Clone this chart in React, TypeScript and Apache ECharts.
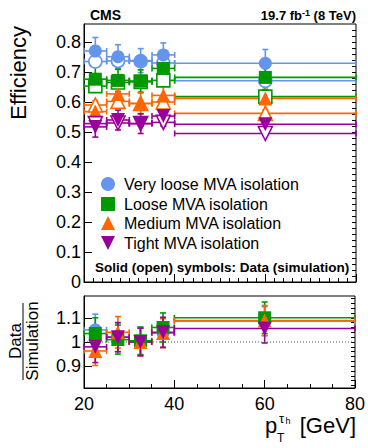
import React, { useEffect, useRef } from "react";
import * as echarts from "echarts";

const FONT = "'Liberation Sans', Arial, Helvetica, sans-serif";

// bins in pT
const binCenters = [22.5, 27.5, 32.5, 37.5, 60];
const binHalfWidths = [2.5, 2.5, 2.5, 2.5, 20];

// efficiencies (data = filled, simulation = open)
const vlooseData = [0.770, 0.751, 0.738, 0.757, 0.729];
const vlooseDataErr = [0.045, 0.040, 0.040, 0.040, 0.046];
const vlooseSim = [0.735, 0.737, 0.736, 0.730, 0.671];
const vlooseSimErr = [0.008, 0.008, 0.008, 0.008, 0.006];

const looseData = [0.676, 0.672, 0.670, 0.712, 0.682];
const looseDataErr = [0.040, 0.037, 0.037, 0.040, 0.040];
const looseSim = [0.653, 0.665, 0.667, 0.672, 0.618];
const looseSimErr = [0.008, 0.008, 0.008, 0.008, 0.006];

const mediumData = [0.568, 0.627, 0.595, 0.622, 0.612];
const mediumDataErr = [0.036, 0.035, 0.035, 0.036, 0.038];
const mediumSim = [0.590, 0.602, 0.595, 0.600, 0.562];
const mediumSimErr = [0.008, 0.008, 0.008, 0.008, 0.006];

const tightData = [0.517, 0.540, 0.528, 0.553, 0.526];
const tightDataErr = [0.034, 0.033, 0.033, 0.034, 0.036];
const tightSim = [0.528, 0.530, 0.528, 0.532, 0.495];
const tightSimErr = [0.008, 0.008, 0.008, 0.008, 0.006];

// data / simulation ratios
const vlooseRatio = [1.050, 1.020, 1.003, 1.037, 1.086];
const vlooseRatioErr = [0.065, 0.060, 0.057, 0.060, 0.060];
const looseRatio = [1.035, 1.010, 1.005, 1.060, 1.100];
const looseRatioErr = [0.065, 0.060, 0.057, 0.060, 0.065];
const mediumRatio = [0.963, 1.040, 1.000, 1.037, 1.089];
const mediumRatioErr = [0.060, 0.065, 0.057, 0.060, 0.062];
const tightRatio = [0.980, 1.020, 1.000, 1.040, 1.056];
const tightRatioErr = [0.065, 0.060, 0.057, 0.062, 0.060];

// axis ticks
const effTicks = [0, 0.1, 0.2, 0.3, 0.4, 0.5, 0.6, 0.7, 0.8];
const effMinorTicks = Array.from({ length: 43 }, (_, i) => +(i * 0.02).toFixed(2));
const ratioTicks = [0.9, 1, 1.1];
const ratioMinorTicks = Array.from({ length: 19 }, (_, i) => +(0.82 + i * 0.02).toFixed(2));

const legendNames = [
  "Very loose MVA isolation",
  "Loose MVA isolation",
  "Medium MVA isolation",
  "Tight MVA isolation",
];

const COLORS = ["#6495ed", "#009900", "#ff6600", "#990099"];

function errRender(color: string, lw: number) {
  return (params: any, api: any) => {
    const x = api.value(0);
    const y = api.value(1);
    const xe = api.value(2);
    const ye = api.value(3);
    const l = api.coord([x - xe, y]);
    const r = api.coord([x + xe, y]);
    const t = api.coord([x, y + ye]);
    const b = api.coord([x, y - ye]);
    const cap = 3;
    const style = { stroke: color, lineWidth: lw };
    const children: any[] = [
      { type: "line", shape: { x1: l[0], y1: l[1], x2: r[0], y2: r[1] }, style },
      { type: "line", shape: { x1: l[0], y1: l[1] - cap, x2: l[0], y2: l[1] + cap }, style },
      { type: "line", shape: { x1: r[0], y1: r[1] - cap, x2: r[0], y2: r[1] + cap }, style },
    ];
    if (ye > 0) {
      children.push(
        { type: "line", shape: { x1: t[0], y1: t[1], x2: b[0], y2: b[1] }, style },
        { type: "line", shape: { x1: t[0] - cap, y1: t[1], x2: t[0] + cap, y2: t[1] }, style },
        { type: "line", shape: { x1: b[0] - cap, y1: b[1], x2: b[0] + cap, y2: b[1] }, style }
      );
    }
    return { type: "group", children };
  };
}

function errSeries(vals: number[], errs: number[], color: string, gridIdx: number) {
  return {
    type: "custom",
    xAxisIndex: gridIdx === 0 ? 0 : 1,
    yAxisIndex: gridIdx === 0 ? 0 : 2,
    renderItem: errRender(color, 1.6),
    encode: { x: 0, y: 1 },
    data: binCenters.map((x, i) => [x, vals[i], binHalfWidths[i], errs[i]]),
    silent: true,
  };
}

const SYMS = [
  { symbol: "circle", size: 13, rotate: 0 },
  { symbol: "rect", size: 13, rotate: 0 },
  { symbol: "triangle", size: 14, rotate: 0 },
  { symbol: "triangle", size: 14, rotate: 180 },
];

function markerSeries(vals: number[], k: number, open: boolean, gridIdx: number) {
  return {
    type: "scatter",
    xAxisIndex: gridIdx === 0 ? 0 : 1,
    yAxisIndex: gridIdx === 0 ? 0 : 2,
    symbol: SYMS[k].symbol,
    symbolSize: SYMS[k].size,
    symbolRotate: SYMS[k].rotate,
    itemStyle: open
      ? { color: "#ffffff", borderColor: COLORS[k], borderWidth: 1.6, opacity: 1 }
      : { color: COLORS[k], opacity: 1 },
    data: binCenters.map((x, i) => [x, vals[i]]),
    silent: true,
  };
}

export default function App() {
  const ref = useRef<HTMLDivElement>(null);
  useEffect(() => {
    if (!ref.current) return;
    const chart = echarts.init(ref.current, undefined, { renderer: "svg" });

    const dataSets = [
      { d: vlooseData, de: vlooseDataErr, s: vlooseSim, se: vlooseSimErr, r: vlooseRatio, re: vlooseRatioErr },
      { d: looseData, de: looseDataErr, s: looseSim, se: looseSimErr, r: looseRatio, re: looseRatioErr },
      { d: mediumData, de: mediumDataErr, s: mediumSim, se: mediumSimErr, r: mediumRatio, re: mediumRatioErr },
      { d: tightData, de: tightDataErr, s: tightSim, se: tightSimErr, r: tightRatio, re: tightRatioErr },
    ];

    const series: any[] = [];
    // reference line in ratio panel
    series.push({
      type: "line",
      xAxisIndex: 1,
      yAxisIndex: 2,
      data: [[20, 1], [80, 1]],
      symbol: "none",
      lineStyle: { color: "#555", width: 1, type: [1, 2] },
      silent: true,
    });
    dataSets.forEach((ds, k) => {
      series.push(errSeries(ds.s, ds.se, COLORS[k], 0));
      series.push(errSeries(ds.d, ds.de, COLORS[k], 0));
    });
    dataSets.forEach((ds, k) => {
      series.push(markerSeries(ds.s, k, true, 0));
      series.push(markerSeries(ds.d, k, false, 0));
    });
    dataSets.forEach((ds, k) => {
      series.push(errSeries(ds.r, ds.re, COLORS[k], 1));
    });
    dataSets.forEach((ds, k) => {
      series.push(markerSeries(ds.r, k, false, 1));
    });

    const axisLine = { show: true, lineStyle: { color: "#000", width: 1 } };
    const labelStyle = { color: "#000", fontFamily: FONT, fontSize: 18 };

    const legendY = [184, 204, 223, 243];
    const legendGraphics: any[] = [
      { type: "circle", shape: { cx: 108, cy: legendY[0], r: 7 }, style: { fill: COLORS[0] } },
      { type: "rect", shape: { x: 101, y: legendY[1] - 7, width: 14, height: 14 }, style: { fill: COLORS[1] } },
      {
        type: "polygon",
        shape: { points: [[101, legendY[2] + 7], [115, legendY[2] + 7], [108, legendY[2] - 7]] },
        style: { fill: COLORS[2] },
      },
      {
        type: "polygon",
        shape: { points: [[101, legendY[3] - 7], [115, legendY[3] - 7], [108, legendY[3] + 7]] },
        style: { fill: COLORS[3] },
      },
      ...legendNames.map((n, i) => ({
        type: "text",
        x: 124,
        y: legendY[i],
        style: { text: n, font: `16px ${FONT}`, fill: "#000", verticalAlign: "middle", align: "left" },
      })),
    ];

    chart.setOption({
      animation: false,
      backgroundColor: "#fff",
      grid: [
        { left: 84, top: 24, width: 272, height: 258, show: true, borderColor: "#000", borderWidth: 1, backgroundColor: "transparent" },
        { left: 84, top: 296, width: 272, height: 92, show: true, borderColor: "#000", borderWidth: 1, backgroundColor: "transparent" },
      ],
      xAxis: [
        {
          gridIndex: 0, type: "value", min: 20, max: 80, interval: 20,
          axisLine, axisLabel: { show: false },
          axisTick: { inside: true, length: 8, lineStyle: { color: "#000" } },
          minorTick: { show: true, splitNumber: 10, length: 4, lineStyle: { color: "#000" } },
          splitLine: { show: false },
        },
        {
          gridIndex: 1, type: "value", min: 20, max: 80, interval: 20,
          axisLine, axisLabel: { ...labelStyle, margin: 7 },
          axisTick: { inside: true, length: 8, lineStyle: { color: "#000" } },
          minorTick: { show: true, splitNumber: 4, length: 4, lineStyle: { color: "#000" } },
          splitLine: { show: false },
        },
      ],
      yAxis: [
        {
          gridIndex: 0, type: "value", min: 0, max: 0.86,
          axisLine,
          axisLabel: { ...labelStyle, margin: 3, customValues: effTicks, formatter: (v: number) => String(+v.toFixed(2)) },
          axisTick: { inside: true, length: 8, customValues: effTicks, lineStyle: { color: "#000" } },
          splitLine: { show: false },
        },
        {
          gridIndex: 0, type: "value", min: 0, max: 0.86,
          axisLine: { show: false }, axisLabel: { show: false },
          axisTick: { inside: true, length: 4, customValues: effMinorTicks, lineStyle: { color: "#000" } },
          splitLine: { show: false },
        },
        {
          gridIndex: 1, type: "value", min: 0.81, max: 1.19,
          axisLine,
          axisLabel: { ...labelStyle, margin: 3, customValues: ratioTicks, formatter: (v: number) => String(+v.toFixed(2)) },
          axisTick: { inside: true, length: 8, customValues: ratioTicks, lineStyle: { color: "#000" } },
          splitLine: { show: false },
        },
        {
          gridIndex: 1, type: "value", min: 0.81, max: 1.19,
          axisLine: { show: false }, axisLabel: { show: false },
          axisTick: { inside: true, length: 4, customValues: ratioMinorTicks, lineStyle: { color: "#000" } },
          splitLine: { show: false },
        },
      ],
      series,
      graphic: [
        { type: "text", x: 90, y: 15, style: { text: "CMS", font: `bold 14px ${FONT}`, fill: "#000", verticalAlign: "middle" } },
        {
          type: "text", x: 356, y: 15,
          style: {
            text: "{a|19.7 fb}{s|-1}{a| (8 TeV)}",
            align: "right", verticalAlign: "middle",
            rich: {
              a: { font: `bold 13px ${FONT}`, fill: "#000" },
              s: { font: `bold 9px ${FONT}`, fill: "#000", verticalAlign: "top" },
            },
          },
        },
        {
          type: "text", x: 18, y: 26, rotation: Math.PI / 2,
          style: { text: "Efficiency", font: `22px ${FONT}`, fill: "#000", align: "right", verticalAlign: "middle" },
        },
        {
          type: "text", x: 15, y: 341, rotation: Math.PI / 2,
          style: { text: "Data", font: `17px ${FONT}`, fill: "#000", align: "center", verticalAlign: "middle" },
        },
        {
          type: "text", x: 32, y: 341, rotation: Math.PI / 2,
          style: { text: "Simulation", font: `17px ${FONT}`, fill: "#000", align: "center", verticalAlign: "middle" },
        },
        { type: "line", shape: { x1: 23, y1: 303, x2: 23, y2: 380 }, style: { stroke: "#000", lineWidth: 1 } },
        { type: "text", x: 265, y: 425, style: { text: "p", font: `22px ${FONT}`, fill: "#000", verticalAlign: "middle" } },
        { type: "text", x: 277, y: 438, style: { text: "T", font: `12px ${FONT}`, fill: "#000", verticalAlign: "middle" } },
        { type: "text", x: 279, y: 418, style: { text: "τ", font: `13px ${FONT}`, fill: "#000", verticalAlign: "middle" } },
        { type: "text", x: 285.5, y: 421, style: { text: "h", font: `9px ${FONT}`, fill: "#000", verticalAlign: "middle" } },
        { type: "text", x: 356, y: 425, style: { text: " [GeV]", font: `22px ${FONT}`, fill: "#000", align: "right", verticalAlign: "middle" } },
        ...legendGraphics,
        {
          type: "text", x: 95, y: 267,
          style: { text: "Solid (open) symbols: Data (simulation)", font: `bold 13.5px ${FONT}`, fill: "#000", verticalAlign: "middle" },
        },
      ],
    });
    return () => chart.dispose();
  }, []);
  return <div ref={ref} style={{ position: "fixed", left: 0, top: 0, width: 368, height: 448 }} />;
}
